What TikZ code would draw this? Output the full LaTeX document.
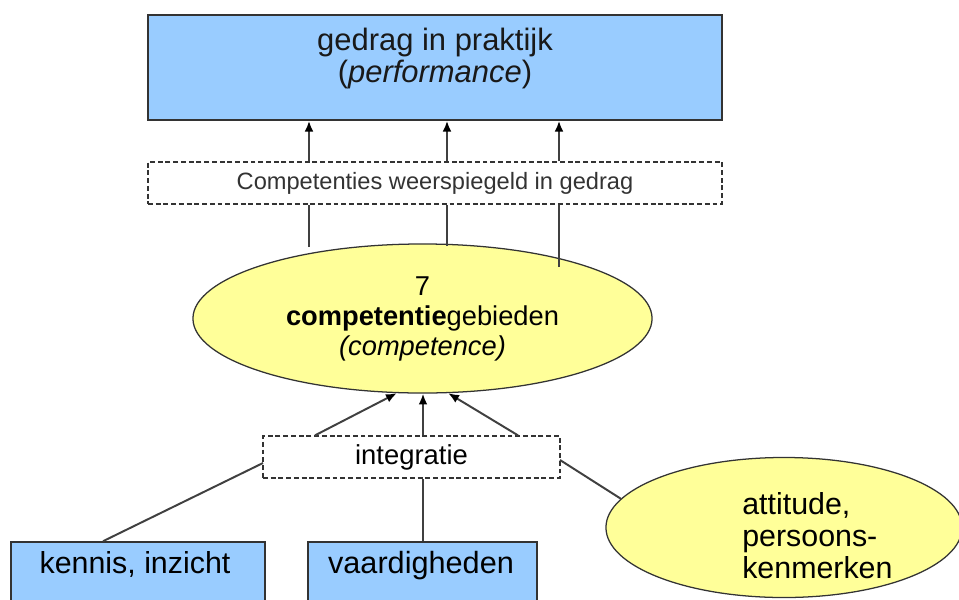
\documentclass[tikz,border=0pt]{standalone}
\usepackage{fontspec}
\setmainfont{Liberation Sans}
\usetikzlibrary{arrows.meta, positioning, shapes.geometric}
\definecolor{boxblue}{HTML}{99CCFF}
\definecolor{ovalyellow}{HTML}{FFFF99}
\definecolor{rim}{HTML}{333333}
\definecolor{wire}{HTML}{404040}
\tikzset{
  bluebox/.style={draw=rim, fill=boxblue, line width=1.1pt, inner sep=0pt},
  dashbox/.style={draw=rim, fill=white, dash pattern=on 3.5pt off 2pt, line width=0.9pt, inner sep=0pt},
  oval/.style={ellipse, draw=rim, fill=ovalyellow, line width=0.9pt, inner sep=0pt},
  link/.style={draw=wire, line width=1.4pt},
  uparrow/.style={link, -{Latex[length=0.27cm,width=0.22cm,black]}}
}

\begin{document}
\begin{tikzpicture}[x=0.025cm, y=-0.025cm]
\clip (0,0) rectangle (959,599);

% performance at the top
\node[bluebox, minimum width=14.35cm, minimum height=2.625cm] (perf) at (435,67.5) {};
\node[font=\fontsize{22}{22.5}\selectfont, align=center, inner sep=0pt, text=black!90] (perftxt) at (435,58.5) {gedrag in praktijk\\(\textit{performance})};

\node[dashbox, minimum width=14.35cm, minimum height=1.05cm, text=rim, font=\fontsize{16.8}{18}\selectfont] (refl) at (435,183) {Competenties weerspiegeld in gedrag};

% competence
\node[oval, minimum width=11.475cm, minimum height=3.725cm, align=center, font=\fontsize{19.4}{21.3}\selectfont] (comp) at (422.5,318.5) {7\\\textbf{competentie}gebieden\\\textit{(competence)}};

\node[dashbox, minimum width=7.425cm, minimum height=1.05cm, font=\fontsize{19.5}{21}\selectfont] (integ) at (411.5,457) {integratie};

% the three sources
\node[bluebox, minimum width=6.35cm, minimum height=2.5cm] (kennis) at (138,592) {};
\node[anchor=base, font=\fontsize{21.6}{22}\selectfont, inner sep=0pt] (kennistxt) at (135,573) {kennis, inzicht};
\node[bluebox, minimum width=5.725cm, minimum height=2.5cm] (vaard) at (422.5,592) {};
\node[anchor=base, font=\fontsize{21.8}{22}\selectfont, inner sep=0pt] (vaardtxt) at (421,573) {vaardigheden};
\node[oval, minimum width=8.9cm, minimum height=3.5cm] (att) at (784,527.5) {};
\node[anchor=west, align=left, font=\fontsize{21.6}{23}\selectfont, inner sep=0pt] (atttxt) at (742,535.5) {attitude,\\persoons-\\kenmerken};

% connectors
\foreach \x/\e [count=\i] in {309/247, 447/246, 559/267}{
  \coordinate (foot\i) at (\x,\e);
  \draw[uparrow] (refl.north -| foot\i) -- (perf.south -| foot\i);
  \draw[link] (foot\i) -- (refl.south -| foot\i);
}

\coordinate (inl) at (315,436);
\coordinate (inm) at (423,436);
\coordinate (inr) at (518,436);
\draw[uparrow] (integ.north -| inl) -- (comp.251);
\draw[uparrow] (integ.north -| inm) -- (comp.south -| inm);
\draw[uparrow] (integ.north -| inr) -- (comp.289);

\coordinate (kfoot) at (103,541);
\coordinate (kin) at (263,463);
\coordinate (vfoot) at (423,541);
\coordinate (ain) at (560,460);
\draw[link] (kennis.north -| kfoot) -- (kin);
\draw[link] (vfoot) -- (integ.south -| vfoot);
\draw[link] (att.170) -- (ain);
\end{tikzpicture}
\end{document}
